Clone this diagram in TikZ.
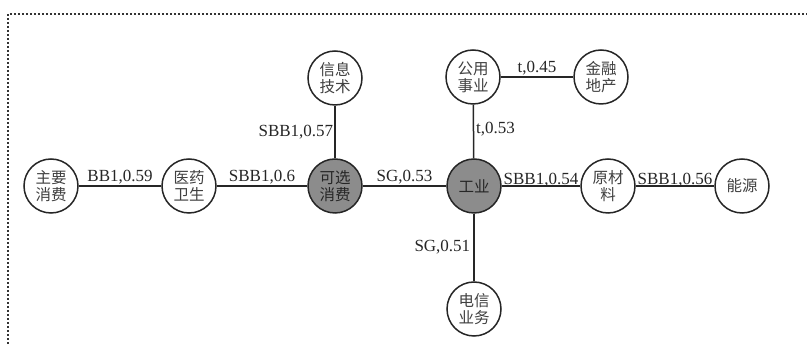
\documentclass[tikz,border=0pt]{standalone}
\usepackage{fontspec}
\setmainfont{Liberation Serif}
\newfontfamily\cjk{Noto Sans CJK SC}
\begin{document}
\begin{tikzpicture}[x=1pt,y=-1pt,
  sector/.style={circle,draw=black!85,line width=1.5pt,minimum size=54pt,
    inner sep=0pt,align=center,fill=white,text=black!75,
    font=\cjk\fontsize{15.5}{17}\selectfont},
  hub/.style={sector,fill=black!45,text=black!85},
  link/.style={line width=1.5pt,draw=black!85},
  lab/.style={font=\fontsize{17}{17}\selectfont,inner sep=1pt,text=black!85}]
\useasboundingbox (0,0) rectangle (807,344);
% dotted frame
\draw[line width=1.8pt,dash pattern=on 1.8pt off 2.2pt,black!80] (8,344) -- (8,14) -- (807,14);

% sectors
\node[sector] (zyxf) at (51,186)  {主要\\消费};
\node[sector] (yywsh) at (189,186) {医药\\卫生};
\node[hub]    (kxxf) at (335,186) {可选\\消费};
\node[hub]    (gy)   at (474,186) {工业};
\node[sector] (ycl)  at (608,186) {原材\\料};
\node[sector] (ny)   at (742,186) {能源};
\node[sector] (xxjs) at (335,78)  {信息\\技术};
\node[sector] (gysy) at (473,77)  {公用\\事业};
\node[sector] (jrdc) at (601,77)  {金融\\地产};
\node[sector] (dxyw) at (474,309) {电信\\业务};

% links
\draw[link] (zyxf) -- node[lab,above]{BB1,0.59} (yywsh);
\draw[link] (yywsh) -- node[lab,above]{SBB1,0.6} (kxxf);
\draw[link] (kxxf) -- node[lab,above]{SG,0.53} (gy);
\draw[link] (gy) -- node[lab,above=-3pt]{SBB1,0.54} (ycl);
\draw[link] (ycl) -- node[lab,above=-3pt]{SBB1,0.56} (ny);
\draw[link] (xxjs) -- node[lab,left=0pt]{SBB1,0.57} (kxxf);
\draw[link] (gysy) -- node[lab,right=1pt,pos=0.45]{t,0.53} (gy);
\draw[link] (gysy) -- node[lab,above]{t,0.45} (jrdc);
\draw[link] (gy) -- node[lab,left=2pt]{SG,0.51} (dxyw);
\end{tikzpicture}
\end{document}
